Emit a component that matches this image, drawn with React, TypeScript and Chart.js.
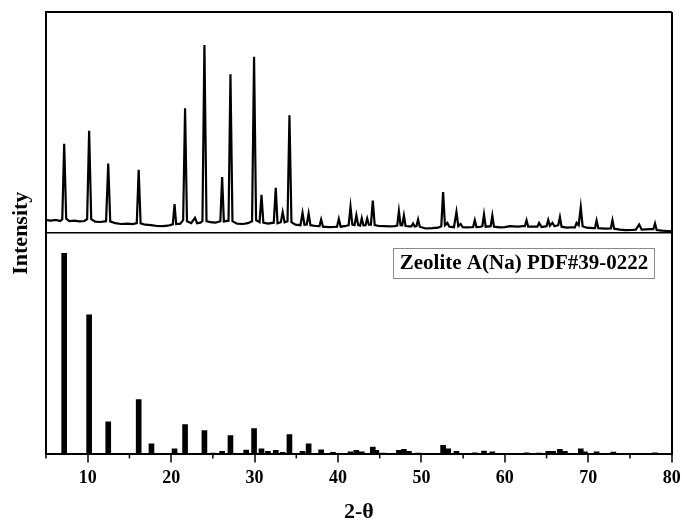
import React, { useEffect, useRef } from "react";
import { Chart, registerables } from "chart.js";

Chart.register(...registerables);

// ---- Measured XRD pattern (2-theta in degrees, intensity in counts) ----
const xrdAngles = [
  5.0, 5.6, 6.2, 6.7, 6.95, 7.18, 7.42, 7.8, 8.4, 9.0,
  9.6, 9.93, 10.17, 10.42, 10.9, 11.5, 12.2, 12.46, 12.7, 13.3,
  14.0, 14.8, 15.4, 15.88, 16.11, 16.34, 16.9, 17.6, 18.3, 19.0,
  19.6, 20.2, 20.41, 20.6, 21.1, 21.44, 21.67, 21.9, 22.4, 22.86,
  23.1, 23.5, 23.75, 23.99, 24.24, 24.7, 25.3, 25.9, 26.11, 26.32,
  26.88, 27.11, 27.35, 27.9, 28.6, 29.2, 29.7, 29.94, 30.18, 30.6,
  30.83, 31.05, 31.6, 32.3, 32.54, 32.75, 33.15, 33.37, 33.6, 33.95,
  34.18, 34.42, 34.9, 35.5, 35.75, 35.98, 36.26, 36.48, 36.7, 37.3,
  37.78, 37.98, 38.2, 38.9, 39.5, 39.88, 40.1, 40.32, 40.8, 41.28,
  41.5, 41.72, 41.98, 42.2, 42.42, 42.65, 42.85, 43.05, 43.3, 43.5,
  43.7, 43.95, 44.17, 44.4, 44.9, 45.5, 46.2, 46.8, 47.1, 47.3,
  47.5, 47.7, 47.9, 48.1, 48.6, 48.8, 49.0, 49.2, 49.4, 49.6, 49.8,
  50.5, 51.3, 52.0, 52.38, 52.6, 52.82, 53.1, 53.35, 53.9, 54.2,
  54.42, 54.7, 54.95, 55.5, 56.2, 56.4, 56.6, 57.0, 57.3, 57.5,
  57.7, 58.3, 58.5, 58.7, 59.4, 60.0, 60.6, 61.0, 61.6, 62.1,
  62.4, 62.6, 62.8, 63.5, 63.9, 64.1, 64.4, 65.0, 65.2, 65.4, 65.7,
  65.95, 66.4, 66.6, 66.8, 67.4, 67.9, 68.4, 68.6, 68.85, 69.1, 69.32,
  69.8, 70.5, 70.8, 71.0, 71.2, 72.0, 72.7, 72.9, 73.1, 73.8, 74.5,
  75.2, 75.7, 76.1, 76.4, 76.9, 77.5, 77.8, 78.0, 78.2, 78.8, 79.4,
  80.0,
];
const xrdCounts = [
  130, 125, 132, 122, 140, 893, 145, 120, 125, 118,
  122, 140, 1023, 140, 115, 112, 120, 697, 118, 100,
  92, 95, 90, 100, 633, 98, 85, 80, 72, 70,
  75, 88, 290, 92, 95, 130, 1247, 120, 100, 153,
  100, 105, 120, 1880, 120, 110, 105, 120, 560, 118,
  125, 1587, 120, 95, 92, 100, 120, 1763, 130, 110,
  383, 105, 95, 105, 453, 100, 110, 210, 110, 120,
  1177, 110, 85, 80, 203, 85, 88, 197, 80, 72,
  70, 137, 65, 60, 62, 65, 143, 65, 70, 80,
  263, 85, 80, 180, 80, 75, 150, 78, 80, 147,
  85, 85, 327, 80, 72, 70, 68, 70, 75, 220,
  80, 78, 177, 72, 68, 68, 97, 66, 70, 137, 65,
  47, 50, 55, 70, 410, 80, 103, 65, 60, 213,
  70, 93, 60, 58, 62, 130, 60, 62, 70, 187,
  65, 70, 177, 65, 58, 60, 70, 68, 65, 70,
  70, 130, 65, 65, 65, 103, 62, 70, 133, 75, 103,
  70, 80, 160, 65, 55, 58, 58, 103, 80, 260, 70,
  55, 50, 50, 127, 50, 45, 48, 130, 45, 35, 30,
  32, 35, 87, 35, 38, 40, 40, 97, 32, 25, 22,
  20,
];

// ---- Reference pattern (PDF#39-0222), relative intensity ----
const pdfAngles = [
  7.18, 10.17, 12.46, 16.11, 17.64, 20.41, 21.67, 23.99, 25.0, 26.11,
  27.11, 29.0, 29.94, 30.83, 31.6, 32.54, 33.37, 34.18, 35.75, 36.48,
  37.98, 39.4, 41.5, 42.2, 42.85, 44.17, 44.6, 45.4, 47.3, 47.9,
  48.5, 49.6, 52.6, 53.2, 54.2, 55.4, 56.4, 57.5, 58.5, 60.2,
  61.0, 62.6, 64.1, 65.2, 65.8, 66.6, 67.2, 69.1, 69.6, 71.0,
  73.0, 75.0, 76.2, 78.0,
];
const pdfIntensity = [
  100, 69.4, 16.2, 27.2, 5.3, 2.8, 14.8, 11.8, 0.7, 1.5,
  9.4, 2.1, 12.8, 2.8, 1.5, 2.0, 1.0, 9.8, 1.5, 5.3,
  2.3, 1.0, 1.3, 2.0, 1.3, 3.6, 2.0, 0.7, 2.0, 2.5,
  1.5, 0.7, 4.5, 2.8, 1.5, 0.5, 0.8, 1.6, 1.3, 0.5,
  0.5, 0.8, 0.7, 1.5, 1.5, 2.5, 1.5, 2.8, 1.3, 1.3,
  1.1, 0.5, 0.5, 0.8,
];

const X_MIN = 5;
const X_MAX = 80;
const X_STEP = 5;
const PANEL_MAX = 110; // relative-intensity range of the lower panel
const TOP_MAX = 2210; // counts range of the upper panel

const legendLabel = "Zeolite A(Na) PDF#39-0222";
const xTitle = "2-θ";
const yTitle = "Intensity";

const FONT = '"Liberation Serif", "Times New Roman", serif';

const decorPlugin = {
  id: "decor",
  afterDraw(chart: any) {
    const { ctx, chartArea, scales } = chart;
    const xs = scales.x;
    const ys = scales.y;
    ctx.save();
    // minor tick marks
    ctx.strokeStyle = "#000";
    ctx.lineWidth = 1.5;
    xs.ticks.forEach((t: any) => {
      if (t.value % 10 !== 0) {
        const px = xs.getPixelForValue(t.value);
        ctx.beginPath();
        ctx.moveTo(px, chartArea.bottom);
        ctx.lineTo(px, chartArea.bottom + 4);
        ctx.stroke();
      }
    });
    // legend box in lower panel
    ctx.font = `bold 21px ${FONT}`;
    const tw = ctx.measureText(legendLabel).width;
    const boxW = tw + 13;
    const boxH = 30;
    const right = chartArea.right - 17;
    const top = ys.getPixelForValue(PANEL_MAX) + 14.5;
    ctx.fillStyle = "#fff";
    ctx.fillRect(right - boxW, top, boxW, boxH);
    ctx.strokeStyle = "#8a8a8a";
    ctx.lineWidth = 1;
    ctx.strokeRect(Math.round(right - boxW) + 0.5, Math.round(top) + 0.5, Math.round(boxW), boxH);
    ctx.fillStyle = "#000";
    ctx.textAlign = "center";
    ctx.textBaseline = "middle";
    ctx.fillText(legendLabel, right - boxW / 2, top + boxH / 2 + 1);
    ctx.restore();
  },
};

export default function App() {
  const canvasRef = useRef<HTMLCanvasElement | null>(null);

  useEffect(() => {
    const canvas = canvasRef.current;
    if (!canvas) return;
    const chart = new Chart(canvas, {
      type: "bar",
      data: {
        datasets: [
          {
            type: "line",
            label: "XRD",
            data: xrdAngles.map((a, i) => ({ x: a, y: xrdCounts[i] })),
            xAxisID: "x",
            yAxisID: "yTop",
            borderColor: "#000",
            borderWidth: 2.2,
            pointRadius: 0,
            tension: 0,
            fill: false,
          } as any,
          {
            type: "bar",
            label: legendLabel,
            data: pdfAngles.map((a, i) => ({ x: a, y: pdfIntensity[i] })),
            xAxisID: "x",
            yAxisID: "y",
            backgroundColor: "#000",
            borderWidth: 0,
            barThickness: 5,
            grouped: false,
          } as any,
        ],
      },
      options: {
        responsive: false,
        animation: false,
        devicePixelRatio: 1,
        layout: { padding: { top: 12, right: 0, left: 0, bottom: 0 } },
        plugins: { legend: { display: false }, tooltip: { enabled: false } },
        scales: {
          x: {
            type: "linear",
            position: "bottom",
            min: X_MIN,
            max: X_MAX,
            offset: false,
            afterFit: (s: any) => {
              s.paddingRight = 10.3;
              s.paddingLeft = 0;
            },
            ticks: {
              stepSize: X_STEP,
              autoSkip: false,
              maxRotation: 0,
              padding: 5,
              color: "#000",
              font: { family: FONT, size: 18, weight: "bold" },
              callback: (v: any) => (Number(v) % 10 === 0 ? String(v) : ""),
            },
            grid: {
              offset: false,
              drawOnChartArea: true,
              color: (c: any) => (c.tick && c.tick.value === X_MAX ? "#000" : "rgba(0,0,0,0)"),
              lineWidth: 2,
              tickLength: 8,
              tickWidth: 1.5,
              tickColor: (c: any) => (c.tick && c.tick.value % 10 === 0 ? "#000" : "rgba(0,0,0,0)"),
            },
            border: { display: true, color: "#000", width: 2 },
            title: {
              display: true,
              text: xTitle,
              color: "#000",
              font: { family: FONT, size: 22, weight: "bold", lineHeight: "16px" },
              padding: { top: 10, bottom: 0 },
            },
          },
          y: {
            type: "linear",
            position: "left",
            min: 0,
            max: PANEL_MAX * 2,
            afterBuildTicks: (s: any) => {
              s.ticks = [{ value: 0 }, { value: PANEL_MAX }, { value: PANEL_MAX * 2 }];
            },
            ticks: { display: false },
            grid: {
              drawTicks: false,
              color: (c: any) => (c.tick && c.tick.value > 0 ? "#000" : "rgba(0,0,0,0)"),
              lineWidth: (c: any) => (c.tick && c.tick.value === PANEL_MAX ? 1.5 : 2),
            },
            border: { display: true, color: "#000", width: 2 },
            title: {
              display: true,
              text: yTitle,
              color: "#000",
              font: { family: FONT, size: 22, weight: "bold", lineHeight: "22px" },
              padding: { top: 10.7, bottom: 13.3 },
            },
          },
          yTop: {
            type: "linear",
            display: false,
            min: -TOP_MAX,
            max: TOP_MAX,
          },
        },
      } as any,
      plugins: [decorPlugin],
    });
    return () => chart.destroy();
  }, []);

  return (
    <div style={{ position: "fixed", left: 0, top: 0, width: 682, height: 520, background: "#fff" }}>
      <canvas ref={canvasRef} width={682} height={520} style={{ display: "block" }} />
    </div>
  );
}
